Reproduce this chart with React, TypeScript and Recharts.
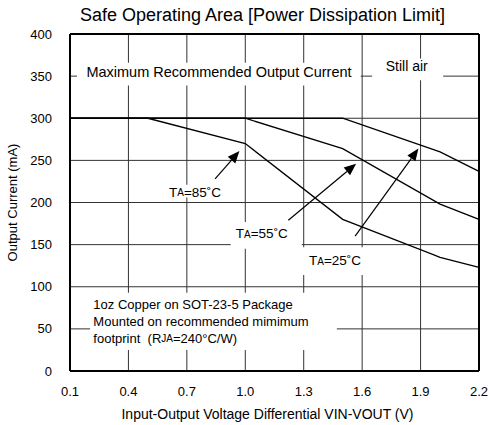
import React from 'react';
import {
  LineChart,
  Line,
  XAxis,
  YAxis,
  CartesianGrid,
  ReferenceArea,
  ReferenceLine,
  ReferenceDot,
} from 'recharts';

// breakpoints of the derating curves (V) and current limit (mA) at each
const voltage = [0.1, 0.5, 1.0, 1.5, 2.0, 2.2];
const current85 = [300, 300, 270, 180, 135, 123];
const current55 = [300, 300, 300, 264, 198, 180];
const current25 = [300, 300, 300, 300, 260, 237];

const xTicks = [0.1, 0.4, 0.7, 1.0, 1.3, 1.6, 1.9, 2.2];
const yTicks = [0, 50, 100, 150, 200, 250, 300, 350, 400];

const data = voltage.map((v, i) => ({
  v,
  t85: current85[i],
  t55: current55[i],
  t25: current25[i],
}));

const FONT = 'Arial, "Liberation Sans", Helvetica, sans-serif';

// white boxes behind the annotations (data units)
const boxes = [
  { x1: 0.136, x2: 1.593, y1: 339, y2: 366 },
  { x1: 1.651, x2: 2.016, y1: 345, y2: 371 },
  { x1: 0.597, x2: 0.886, y1: 206, y2: 221 },
  { x1: 0.925, x2: 1.29, y1: 145, y2: 177 },
  { x1: 1.292, x2: 1.615, y1: 114, y2: 147 },
  { x1: 0.203, x2: 1.47, y1: 25, y2: 93 },
];

// arrows from the temperature labels to their curves
const arrows = [
  [{ x: 0.845, y: 228 }, { x: 0.97, y: 261 }],
  [{ x: 1.221, y: 179 }, { x: 1.569, y: 246 }],
  [{ x: 1.564, y: 160 }, { x: 1.889, y: 264 }],
];

const tempLabels = [
  { x: 0.742, y: 212, t: '85' },
  { x: 1.085, y: 163, t: '55' },
  { x: 1.461, y: 131, t: '25' },
];

const noteLines = [
  '1oz Copper on SOT-23-5 Package',
  'Mounted on recommended mimimum',
  'footprint\u00a0\u00a0(R',
];

const Arrow = (props: any) => {
  const { x1, y1, x2, y2 } = props;
  const ang = Math.atan2(y2 - y1, x2 - x1);
  const len = 12;
  const half = 5;
  const bx = x2 - len * Math.cos(ang);
  const by = y2 - len * Math.sin(ang);
  const px = -Math.sin(ang) * half;
  const py = Math.cos(ang) * half;
  return (
    <g>
      <line x1={x1} y1={y1} x2={bx} y2={by} stroke="#000" strokeWidth={1.2} />
      <polygon points={`${x2},${y2} ${bx + px},${by + py} ${bx - px},${by - py}`} fill="#000" />
    </g>
  );
};

const TempText = (t: string) => (props: any) => (
  <text x={props.cx} y={props.cy} textAnchor="middle" dominantBaseline="central" fontFamily={FONT} fontSize={13.5} fill="#000">
    T<tspan fontSize={10}>A</tspan>={t}˚C
  </text>
);

const PlainText = (txt: string, size: number) => (props: any) => (
  <text x={props.cx} y={props.cy} textAnchor="middle" dominantBaseline="central" fontFamily={FONT} fontSize={size} fill="#000">
    {txt}
  </text>
);

const NoteText = (props: any) => (
  <text x={props.cx} y={props.cy} fontFamily={FONT} fontSize={13} fill="#000" dominantBaseline="central">
    <tspan x={props.cx} dy={0}>{noteLines[0]}</tspan>
    <tspan x={props.cx} dy={16.7}>{noteLines[1]}</tspan>
    <tspan x={props.cx} dy={16.7}>
      {noteLines[2]}
      <tspan fontSize={10}>JA</tspan>=240°C/W)
    </tspan>
  </text>
);

export default function App() {
  return (
    <div style={{ position: 'absolute', left: 0, top: 0, width: 489, height: 425, background: '#fff' }}>
      <div
        style={{
          position: 'absolute',
          left: 0,
          top: 4,
          width: 525,
          textAlign: 'center',
          fontFamily: FONT,
          fontSize: 18,
          lineHeight: '22px',
          color: '#000',
        }}
      >
        Safe Operating Area [Power Dissipation Limit]
      </div>
      <LineChart width={489} height={425} data={data} margin={{ top: 34, right: 10, bottom: 0, left: 0 }}>
        <CartesianGrid stroke="#333" strokeWidth={1} />
        <XAxis
          dataKey="v"
          type="number"
          domain={[0.1, 2.2]}
          ticks={xTicks}
          tickFormatter={(v: number) => v.toFixed(1)}
          height={54}
          tickLine={false}
          axisLine={{ stroke: '#000', strokeWidth: 2 }}
          tick={{ fill: '#000', fontSize: 13, fontFamily: FONT }}
          tickMargin={10}
          label={{
            value: 'Input-Output Voltage Differential VIN-VOUT (V)',
            position: 'insideBottom',
            offset: 6,
            dx: -7,
            style: { fill: '#000', fontSize: 14, fontFamily: FONT },
          }}
        />
        <YAxis
          type="number"
          domain={[0, 400]}
          ticks={yTicks}
          width={70}
          tickLine={false}
          axisLine={{ stroke: '#000', strokeWidth: 2 }}
          tick={{ fill: '#000', fontSize: 13, fontFamily: FONT }}
          tickMargin={12}
          label={{
            value: 'Output Current (mA)',
            angle: -90,
            position: 'insideLeft',
            offset: 12,
            style: { fill: '#000', fontSize: 13, fontFamily: FONT, textAnchor: 'middle' },
          }}
        />
        {boxes.map((b, i) => (
          <ReferenceArea key={`box-${i}`} x1={b.x1} x2={b.x2} y1={b.y1} y2={b.y2} fill="#fff" fillOpacity={1} stroke="none" />
        ))}
        <ReferenceLine y={400} stroke="#000" strokeWidth={2} />
        <ReferenceLine x={2.2} stroke="#000" strokeWidth={2} />
        <Line dataKey="t85" stroke="#000" strokeWidth={1.3} dot={false} isAnimationActive={false} />
        <Line dataKey="t55" stroke="#000" strokeWidth={1.3} dot={false} isAnimationActive={false} />
        <Line dataKey="t25" stroke="#000" strokeWidth={1.3} dot={false} isAnimationActive={false} />
        {arrows.map((seg, i) => (
          <ReferenceLine key={`arrow-${i}`} segment={seg} shape={Arrow} />
        ))}
        {tempLabels.map((l) => (
          <ReferenceDot key={`lbl-${l.t}`} x={l.x} y={l.y} r={0} shape={TempText(l.t)} />
        ))}
        <ReferenceDot x={0.865} y={355} r={0} shape={PlainText('Maximum Recommended Output Current', 14.5)} />
        <ReferenceDot x={1.829} y={362} r={0} shape={PlainText('Still air', 14)} />
        <ReferenceDot x={0.22} y={79} r={0} shape={NoteText} />
      </LineChart>
    </div>
  );
}
